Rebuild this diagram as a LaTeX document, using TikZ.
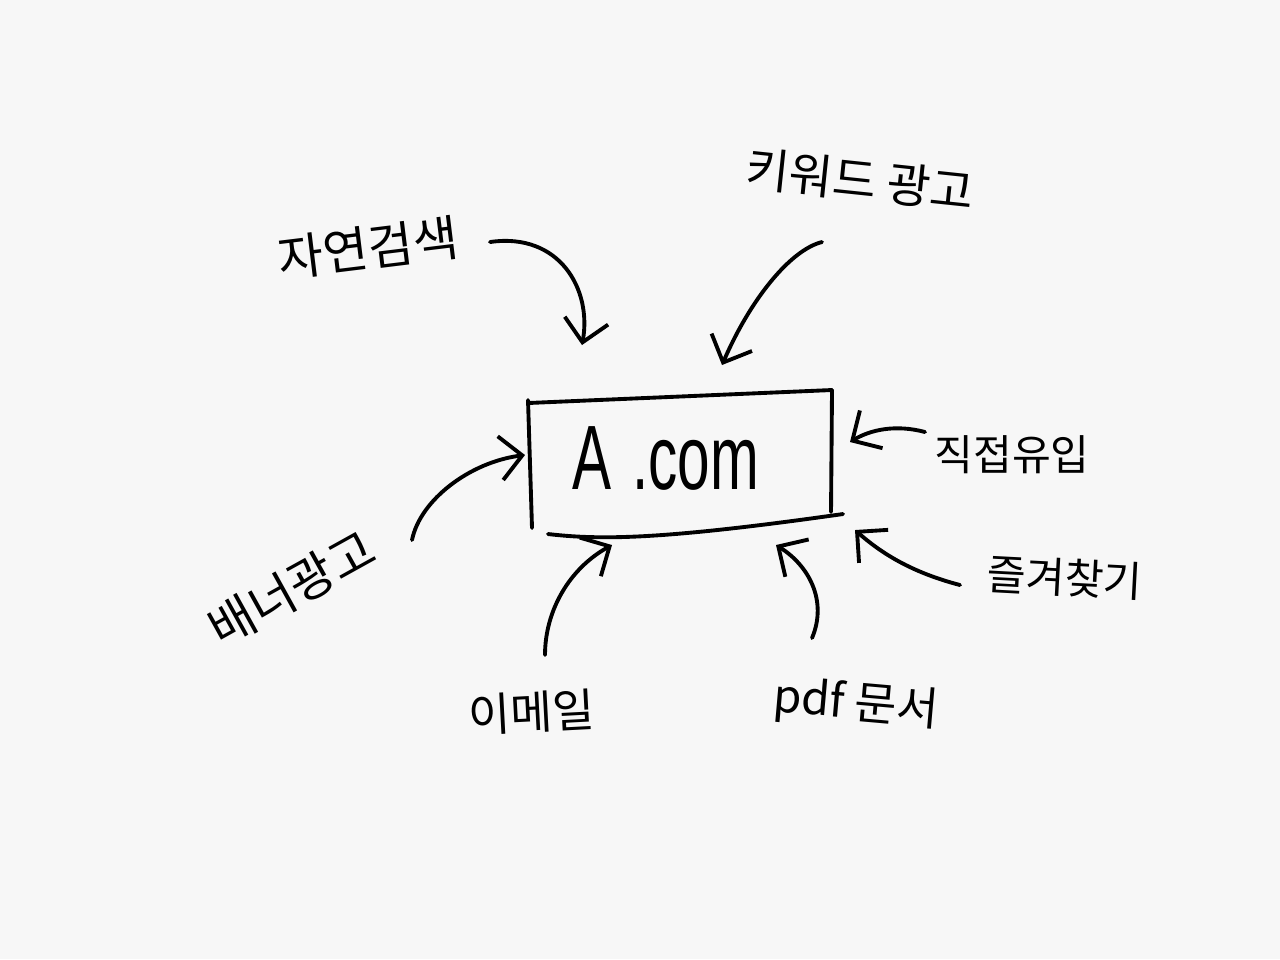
\documentclass[tikz,border=0pt]{standalone}
\usepackage{fontspec}
\newfontfamily\kr{Noto Sans CJK KR}
\newfontfamily\lat{Liberation Sans}
\usetikzlibrary{arrows.meta}
\tikzset{
  ink/.style={line width=1.1pt, line cap=round, line join=round, black},
  arr/.style={ink, -{Straight Barb[length=2.2mm,width=4.4mm,line width=1.1pt]}},
  lbl/.style={font=\kr, inner sep=0pt, text=black},
}
\begin{document}
\begin{tikzpicture}[x=0.01cm,y=-0.01cm]
\fill[white!97!black] (0,0) rectangle (1280,959);
\useasboundingbox (0,0) rectangle (1280,959);

% central site box
\node[inner sep=0pt, minimum width=300, minimum height=120] (site) at (680,458) {};
\node[font=\lat\fontsize{26pt}{28pt}\selectfont, inner sep=0pt, xscale=0.64] (sitetext) at (666,458) {A\hspace{0.35em}.com};
\draw[ink] (528,403) -- (832,390);
\draw[ink] (528,400) -- (532,528);
\draw[ink] (832,390) -- (831,512);
\draw[ink] (548,534) .. controls (600,540) and (660,540) .. (843,514);

% labels
\node[lbl, font=\kr\fontsize{14pt}{16pt}\selectfont, rotate=7] (jayeon) at (368,248) {자연검색};
\node[lbl, font=\kr\fontsize{13.5pt}{16pt}\selectfont, rotate=-6] (keyword) at (860,180) {키워드 광고};
\node[lbl, font=\kr\fontsize{12pt}{14pt}\selectfont] (direct) at (1012,455) {직접유입};
\node[lbl, font=\kr\fontsize{12pt}{14pt}\selectfont, rotate=-3] (bookmark) at (1065,578) {즐겨찾기};
\node[lbl, font=\kr\fontsize{13pt}{15pt}\selectfont, rotate=-5] (pdf) at (856,705) {pdf 문서};
\node[lbl, font=\kr\fontsize{13pt}{15pt}\selectfont, rotate=3] (email) at (532,712) {이메일};
\node[lbl, font=\kr\fontsize{14pt}{16pt}\selectfont, rotate=29] (banner) at (292,588) {배너광고};

% arrow ends
\coordinate (t1) at (490,242); \coordinate (h1) at (582,345);
\coordinate (t2) at (822,242); \coordinate (h2) at (722,365);
\coordinate (t3) at (925,432); \coordinate (h3) at (850,442);
\coordinate (t4) at (960,585); \coordinate (h4) at (855,530);
\coordinate (t5) at (812,638); \coordinate (h5) at (776,545);
\coordinate (t6) at (545,655); \coordinate (h6) at (612,545);
\coordinate (t7) at (412,540); \coordinate (h7) at (525,455);

\draw[arr] (t1) .. controls (560,232) and (592,290) .. (h1);
\draw[arr] (t2) .. controls (790,250) and (750,300) .. (h2);
\draw[arr] (t3) .. controls (895,424) and (870,430) .. (h3);
\draw[arr] (t4) .. controls (910,572) and (880,552) .. (h4);
\draw[arr] (t5) .. controls (828,600) and (808,565) .. (h5);
\draw[arr] (t6) .. controls (545,610) and (570,568) .. (h6);
\draw[arr] (t7) .. controls (420,500) and (470,462) .. (h7);
\end{tikzpicture}
\end{document}
